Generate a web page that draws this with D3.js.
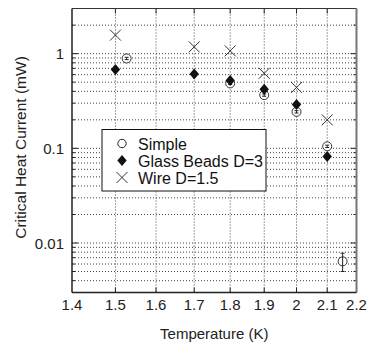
<!DOCTYPE html>
<html>
<head>
<meta charset="utf-8">
<script src="https://cdn.jsdelivr.net/npm/d3@7"></script>
<style>
html,body{margin:0;padding:0;background:#fff;}
svg{display:block;font-family:"Liberation Sans",Arial,sans-serif;}
</style>
</head>
<body>
<svg id="chart" width="368" height="343"></svg>
<script>
// ---- data ----
const xTickValues = [1.4, 1.5, 1.6, 1.7, 1.8, 1.9, 2.0, 2.1, 2.2];
const xTickLabels = ["1.4", "1.5", "1.6", "1.7", "1.8", "1.9", "2", "2.1", "2.2"];
const yTickValues = [0.01, 0.1, 1];
const yTickLabels = ["0.01", "0.1", "1"];

const simpleT = [1.527, 1.8, 1.9, 2.0, 2.1, 2.152];
const simpleI = [0.89, 0.485, 0.365, 0.243, 0.105, 0.0064];
const simpleLo = [0.865, 0.472, 0.355, 0.236, 0.102, 0.0050];
const simpleHi = [0.915, 0.498, 0.375, 0.250, 0.108, 0.0078];

const beadsT = [1.5, 1.7, 1.8, 1.9, 2.0, 2.1];
const beadsI = [0.68, 0.61, 0.52, 0.42, 0.29, 0.082];

const wireT = [1.5, 1.7, 1.8, 1.9, 2.0, 2.1];
const wireI = [1.57, 1.18, 1.07, 0.62, 0.44, 0.2];

const seriesNames = ["Simple", "Glass Beads D=3", "Wire D=1.5"];

// ---- layout ----
const L = 72, R = 356.5, T = 8.5, B = 292.5;
const svg = d3.select("#chart");
const x = d3.scaleLog().domain([1.4, 2.2]).range([L, R]);
const y = d3.scaleLog().domain([0.003, 3]).range([B, T]);

// grid values
const yGrid = [];
[0.001, 0.01, 0.1, 1].forEach(d => { for (let k = 1; k <= 9; k++) { const v = +(d * k).toPrecision(3); if (v > 0.003 && v < 3) yGrid.push(v); } });
const xGrid = xTickValues.slice(1, -1);

const g = svg.append("g");
g.selectAll("line.hg").data(yGrid).enter().append("line")
  .attr("x1", L).attr("x2", R).attr("y1", d => y(d)).attr("y2", d => y(d))
  .attr("stroke", "#444").attr("stroke-width", 1).attr("stroke-dasharray", "1,2");
g.selectAll("line.vg").data(xGrid).enter().append("line")
  .attr("x1", d => x(d)).attr("x2", d => x(d)).attr("y1", T).attr("y2", B)
  .attr("stroke", "#444").attr("stroke-width", 1).attr("stroke-dasharray", "1,2");

// ticks (inward)
const isMajor = v => yTickValues.some(t => Math.abs(t - v) < 1e-9);
g.selectAll("line.lt").data(yGrid).enter().append("line")
  .attr("x1", L).attr("x2", d => L + (isMajor(d) ? 6 : 3))
  .attr("y1", d => y(d)).attr("y2", d => y(d)).attr("stroke", "#222");
g.selectAll("line.rt").data(yGrid).enter().append("line")
  .attr("x1", R).attr("x2", d => R - (isMajor(d) ? 6 : 3))
  .attr("y1", d => y(d)).attr("y2", d => y(d)).attr("stroke", "#222");
g.selectAll("line.bt").data(xGrid).enter().append("line")
  .attr("x1", d => x(d)).attr("x2", d => x(d))
  .attr("y1", B).attr("y2", B - 5).attr("stroke", "#222");
g.selectAll("line.tt").data(xGrid).enter().append("line")
  .attr("x1", d => x(d)).attr("x2", d => x(d))
  .attr("y1", T).attr("y2", T + 5).attr("stroke", "#222");

// frame
g.append("line").attr("x1", L).attr("x2", R).attr("y1", T).attr("y2", T).attr("stroke", "#333");
g.append("line").attr("x1", R).attr("x2", R).attr("y1", T).attr("y2", B).attr("stroke", "#777").attr("stroke-width", 2);
g.append("line").attr("x1", L).attr("x2", L).attr("y1", T).attr("y2", B).attr("stroke", "#222").attr("stroke-width", 1.5);
g.append("line").attr("x1", L).attr("x2", R).attr("y1", B).attr("y2", B).attr("stroke", "#222").attr("stroke-width", 1.5);

// tick labels
g.selectAll("text.xl").data(xTickValues).enter().append("text")
  .attr("x", d => x(d)).attr("y", 310).attr("text-anchor", "middle")
  .attr("font-size", 15).attr("fill", "#222").text((d, i) => xTickLabels[i]);
g.selectAll("text.yl").data(yTickValues).enter().append("text")
  .attr("x", 64).attr("y", d => y(d) + 5.5).attr("text-anchor", "end")
  .attr("font-size", 15).attr("fill", "#222").text((d, i) => yTickLabels[i]);

// axis titles
g.append("text").attr("x", (L + R) / 2).attr("y", 339).attr("text-anchor", "middle")
  .attr("font-size", 15).attr("fill", "#222").text("Temperature (K)");
g.append("text").attr("transform", `translate(26,${(T + B) / 2 - 3}) rotate(-90)`)
  .attr("text-anchor", "middle").attr("font-size", 15.5).attr("fill", "#222")
  .text("Critical Heat Current (mW)");

// markers
const diamond = "M0,-5.5L4.7,0L0,5.5L-4.7,0Z";
const cross = s => `M${-s},${-s}L${s},${s}M${-s},${s}L${s},${-s}`;

const wire = wireT.map((t, i) => ({ t, v: wireI[i] }));
g.selectAll("path.w").data(wire).enter().append("path")
  .attr("transform", d => `translate(${x(d.t)},${y(d.v)})`)
  .attr("d", cross(5.5)).attr("stroke", "#333").attr("stroke-width", 1).attr("fill", "none");

const simple = simpleT.map((t, i) => ({ t, v: simpleI[i], lo: simpleLo[i], hi: simpleHi[i] }));
const sg = g.selectAll("g.s").data(simple).enter().append("g");
sg.append("circle").attr("cx", d => x(d.t)).attr("cy", d => y(d.v)).attr("r", 4.5)
  .attr("fill", "#fff").attr("stroke", "#333").attr("stroke-width", 1);
sg.append("line").attr("x1", d => x(d.t)).attr("x2", d => x(d.t))
  .attr("y1", d => y(d.lo)).attr("y2", d => y(d.hi)).attr("stroke", "#222");
sg.append("line").attr("x1", d => x(d.t) - 2).attr("x2", d => x(d.t) + 2)
  .attr("y1", d => y(d.lo)).attr("y2", d => y(d.lo)).attr("stroke", "#222");
sg.append("line").attr("x1", d => x(d.t) - 2).attr("x2", d => x(d.t) + 2)
  .attr("y1", d => y(d.hi)).attr("y2", d => y(d.hi)).attr("stroke", "#222");

const beads = beadsT.map((t, i) => ({ t, v: beadsI[i] }));
g.selectAll("path.b").data(beads).enter().append("path")
  .attr("transform", d => `translate(${x(d.t)},${y(d.v)})`)
  .attr("d", diamond).attr("fill", "#111");

// legend
const lg = g.append("g");
lg.append("rect").attr("x", 102).attr("y", 129.5).attr("width", 164).attr("height", 61.5)
  .attr("fill", "#fff").attr("stroke", "#111").attr("stroke-width", 1);
const rows = [143.5, 160.5, 177.5];
lg.append("circle").attr("cx", 122).attr("cy", rows[0]).attr("r", 4.2)
  .attr("fill", "#fff").attr("stroke", "#222");
lg.append("path").attr("transform", `translate(122,${rows[1]})`).attr("d", diamond).attr("fill", "#111");
lg.append("path").attr("transform", `translate(122,${rows[2]})`).attr("d", cross(5.5))
  .attr("stroke", "#333").attr("fill", "none");
lg.selectAll("text").data(seriesNames).enter().append("text")
  .attr("x", 138).attr("y", (d, i) => rows[i] + 6).attr("font-size", 16).attr("fill", "#111")
  .text(d => d);
</script>
</body>
</html>
